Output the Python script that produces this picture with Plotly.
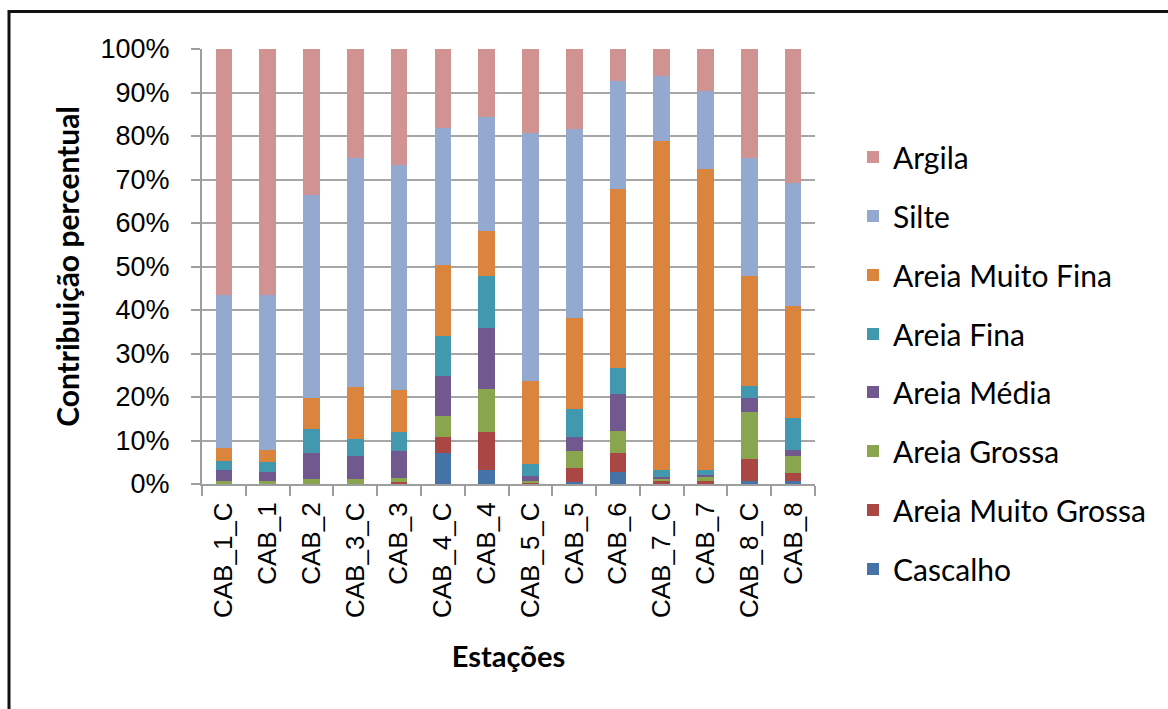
import plotly.graph_objects as go

# Stations along the x axis
stations = ["CAB_1_C", "CAB_1", "CAB_2", "CAB_3_C", "CAB_3", "CAB_4_C", "CAB_4",
            "CAB_5_C", "CAB_5", "CAB_6", "CAB_7_C", "CAB_7", "CAB_8_C", "CAB_8"]

# Grain-size fractions (% of sample), bottom to top of each stack
cascalho = [0.0, 0.0, 0.0, 0.0, 0.0, 7.2, 3.2, 0.0, 0.4, 2.8, 0.0, 0.0, 0.7, 0.7]
areia_muito_grossa = [0.0, 0.0, 0.0, 0.0, 0.4, 3.5, 8.7, 0.4, 3.2, 4.4, 0.7, 0.7, 5.0, 1.8]
areia_grossa = [0.7, 0.7, 1.1, 1.1, 1.0, 5.0, 9.9, 0.4, 3.9, 5.0, 0.4, 0.8, 10.8, 3.9]
areia_media = [2.5, 2.1, 6.1, 5.3, 6.2, 9.1, 14.1, 1.0, 3.2, 8.6, 0.6, 0.6, 3.2, 1.4]
areia_fina = [2.2, 2.2, 5.4, 3.9, 4.3, 9.3, 11.9, 2.9, 6.5, 5.8, 1.5, 1.1, 2.9, 7.3]
areia_muito_fina = [2.8, 2.8, 7.1, 12.0, 9.6, 16.2, 10.4, 19.0, 20.9, 41.2, 75.7, 69.2, 25.2, 25.8]
silte = [35.2, 35.6, 46.7, 52.7, 51.8, 31.5, 26.1, 57.0, 43.4, 24.8, 14.8, 18.0, 27.2, 28.4]
argila = [56.6, 56.6, 33.6, 25.0, 26.7, 18.2, 15.7, 19.3, 18.5, 7.4, 6.3, 9.6, 25.0, 30.7]

series = [
    ("Cascalho", cascalho, "#4572A7"),
    ("Areia Muito Grossa", areia_muito_grossa, "#AA4643"),
    ("Areia Grossa", areia_grossa, "#89A54E"),
    ("Areia Média", areia_media, "#71588F"),
    ("Areia Fina", areia_fina, "#4198AF"),
    ("Areia Muito Fina", areia_muito_fina, "#DB843D"),
    ("Silte", silte, "#93A9CF"),
    ("Argila", argila, "#D19392"),
]

fig = go.Figure()
n = len(series)
for i, (name, vals, color) in enumerate(series):
    fig.add_trace(go.Bar(
        x=stations, y=vals, name=name, legendgroup=name,
        legendrank=n - i,  # top of the stack listed first
        # finer fractions in the upper legend block, coarser ones below
        legend="legend" if i >= 4 else "legend2",
        marker=dict(color=color, line=dict(width=0)),
    ))

# Plot-area geometry in pixels
W, H = 1168, 709
L, R, T, B = 202, 815, 49, 484


def px_x(p):
    return (p - L) / (R - L)


def px_y(p):
    return (B - p) / (B - T)


legend_style = dict(
    traceorder="grouped", tracegroupgap=17, xanchor="left", yanchor="top",
    font=dict(family="Lato", size=30, color="#000000"),
    bgcolor="rgba(0,0,0,0)", itemwidth=30, x=px_x(853),
)

fig.update_layout(
    width=W, height=H,
    margin=dict(l=L, r=W - R, t=T, b=H - B, pad=0),
    barmode="stack", barnorm="percent", bargap=0.62,
    plot_bgcolor="white", paper_bgcolor="white",
    showlegend=True,
    legend=dict(legend_style, y=px_y(131)),
    legend2=dict(legend_style, y=px_y(366)),
    xaxis=dict(
        title=dict(text="<b>Estações</b>", font=dict(family="Lato", size=29, color="#000000"),
                   standoff=30),
        tickangle=-90, tickson="boundaries", ticks="outside", ticklen=10,
        tickcolor="#9e9e9e", tickwidth=1.5,
        showline=True, linecolor="#9e9e9e", linewidth=2,
        tickfont=dict(family="Liberation Sans", size=26, color="#000000"),
        ticklabelstandoff=6,
    ),
    yaxis=dict(
        title=dict(text="<b>Contribuição percentual</b>",
                   font=dict(family="Lato", size=30, color="#000000"), standoff=12),
        range=[0, 100], dtick=10, ticksuffix="%",
        ticks="outside", ticklen=9, tickcolor="#9e9e9e", tickwidth=1.5,
        showline=True, linecolor="#9e9e9e", linewidth=2,
        showgrid=True, gridcolor="#a6a6a6", gridwidth=2,
        tickfont=dict(family="Liberation Sans", size=27, color="#000000"),
        ticklabelstandoff=16, zeroline=False,
    ),
)

# Outer frame of the chart (left and top edges visible)
fig.add_shape(
    type="rect", xref="paper", yref="paper", layer="above",
    x0=px_x(9), x1=px_x(W + 20), y0=px_y(H + 20), y1=px_y(11.5),
    line=dict(color="#111111", width=3),
)

fig.write_html("out.html")
